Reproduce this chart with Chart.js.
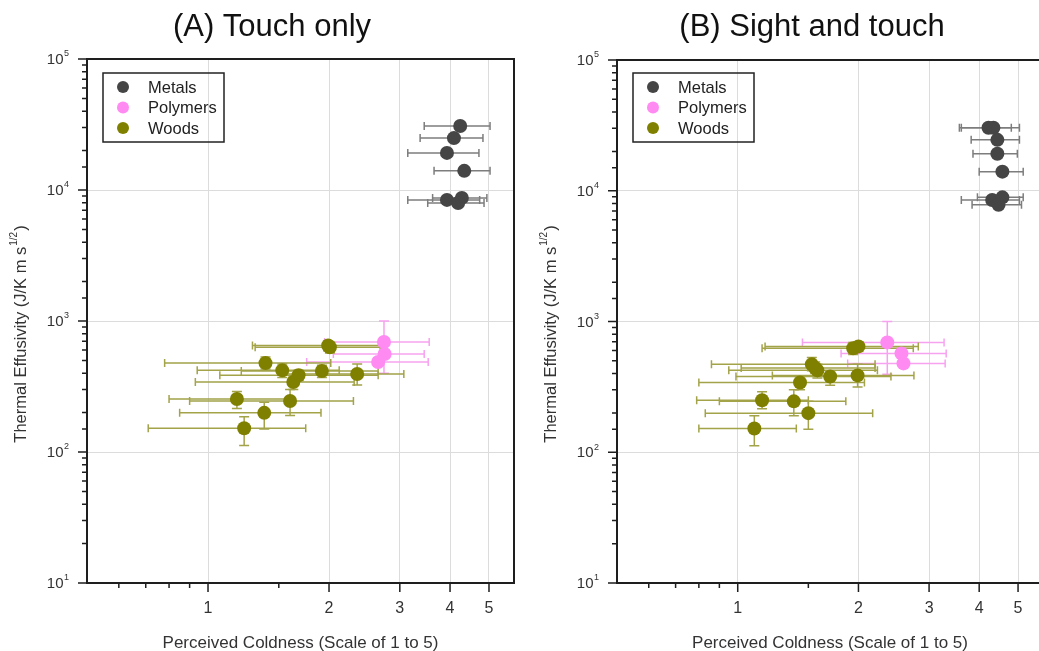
<!DOCTYPE html>
<html>
<head>
<meta charset="utf-8">
<script src="https://cdn.jsdelivr.net/npm/chart.js@4.4.1/dist/chart.umd.min.js"></script>
<style>
	body { margin: 0; background: #fff; overflow: hidden; width: 1039px; height: 651px; position: relative; }
	canvas { position: absolute; top: 0; }
</style>
</head>
<body>
<canvas id="graficoTato" width="520" height="651" style="left:0"></canvas>
<canvas id="graficoVisaoTato" width="530" height="651" style="left:520px"></canvas>
<script>
// (A) Touch only
var metaisA_x    = [4.24, 4.09, 3.93, 4.34, 3.93, 4.28, 4.19];
var metaisA_y    = [30800, 24900, 19200, 14000, 8400, 8700, 7950];
var metaisA_xmin = [3.45, 3.37, 3.14, 3.65, 3.14, 3.62, 3.52];
var metaisA_xmax = [5.03, 4.83, 4.72, 5.03, 4.74, 4.94, 4.86];

var polimerosA_x    = [2.74, 2.75, 2.65];
var polimerosA_y    = [692, 560, 486];
var polimerosA_xmin = [1.95, 2.05, 1.76];
var polimerosA_xmax = [3.55, 3.45, 3.53];
var polimerosA_ymin = [400, null, null];
var polimerosA_ymax = [1000, null, null];

var madeirasA_x    = [1.99, 2.01, 1.39, 1.53, 1.68, 1.63, 1.92, 2.35, 1.18, 1.60, 1.38, 1.23];
var madeirasA_y    = [650, 630, 477, 420, 385, 342, 415, 394, 254, 245, 199, 152];
var madeirasA_xmin = [1.29, 1.31, 0.78, 0.94, 1.07, 0.93, 1.21, 1.55, 0.80, 0.90, 0.85, 0.71];
var madeirasA_xmax = [2.68, 2.70, 2.02, 2.12, 2.65, 2.31, 2.65, 3.07, 1.60, 2.30, 1.91, 1.75];
var madeirasA_ymin = [590, 570, 430, 370, 350, 300, 370, 325, 215, 190, 150, 112];
var madeirasA_ymax = [700, 690, 530, 470, 420, 380, 460, 470, 290, 300, 240, 186];

// (B) Sight and touch
var metaisB_x    = [4.22, 4.34, 4.44, 4.44, 4.57, 4.31, 4.57, 4.47];
var metaisB_y    = [30300, 30300, 24500, 19200, 14000, 8500, 8900, 7800];
var metaisB_xmin = [3.57, 3.61, 3.82, 3.86, 4.00, 3.61, 3.96, 3.84];
var metaisB_xmax = [4.81, 5.04, 5.04, 4.98, 5.15, 5.04, 5.15, 5.10];

var polimerosB_x    = [2.36, 2.56, 2.59];
var polimerosB_y    = [692, 570, 478];
var polimerosB_xmin = [1.45, 1.81, 1.88];
var polimerosB_xmax = [3.27, 3.31, 3.29];
var polimerosB_ymin = [395, null, null];
var polimerosB_ymax = [1000, null, null];

var madeirasB_x    = [1.94, 2.00, 1.53, 1.56, 1.58, 1.70, 1.43, 1.99, 1.15, 1.38, 1.50, 1.10];
var madeirasB_y    = [625, 645, 470, 440, 423, 380, 342, 387, 250, 245, 199, 152];
var madeirasB_xmin = [1.15, 1.17, 0.86, 1.02, 0.95, 0.99, 0.80, 1.22, 0.79, 0.90, 0.83, 0.80];
var madeirasB_xmax = [2.74, 2.82, 2.20, 2.20, 2.23, 2.41, 2.07, 2.75, 1.50, 1.86, 2.17, 1.40];
var madeirasB_ymin = [560, 590, 420, 400, 370, 325, 300, 315, 215, 190, 150, 112];
var madeirasB_ymax = [690, 700, 530, 490, 470, 420, 380, 470, 290, 300, 245, 190];

var rotulosLegenda = ['Metals', 'Polymers', 'Woods'];
var coresPontos = ['#454545', '#ff8af2', '#808000'];
var coresBarras = ['#7d7d7d', '#f7a2f0', '#a3a34a'];

var Grafico = Grafico || {};

Grafico.Efusividade = (function() {

	function Efusividade(id, opcoes) {
		this.ctx = document.getElementById(id).getContext('2d');
		this.opcoes = opcoes;
	}

	Efusividade.prototype.iniciar = function() {
		var o = this.opcoes;
		var datasets = o.series.map(function(s, i) {
			return {
				label: rotulosLegenda[i],
				data: s.x.map(function(x, j) { return { x: x, y: s.y[j] }; }),
				backgroundColor: coresPontos[i],
				borderWidth: 0,
				pointRadius: 7,
				pointHoverRadius: 7,
				xmin: s.xmin, xmax: s.xmax,
				ymin: s.ymin || [], ymax: s.ymax || [],
				corBarra: coresBarras[i]
			};
		});

		new Chart(this.ctx, {
			type: 'scatter',
			data: { datasets: datasets },
			options: {
				responsive: false,
				animation: false,
				devicePixelRatio: 1,
				layout: { autoPadding: false, padding: { left: 0, top: o.topo, right: o.direita, bottom: 0 } },
				plugins: {
					legend: { display: false },
					tooltip: { enabled: false },
					titulo: o
				},
				scales: {
					x: {
						type: 'logarithmic',
						min: 0.5, max: 5.77,
						border: { display: false },
						grid: {
							drawTicks: false,
							lineWidth: 1,
							color: function(c) { return ehInteiro(c.tick.value) ? '#dcdcdc' : 'rgba(0,0,0,0)'; }
						},
						ticks: {
							autoSkip: false, maxRotation: 0, padding: 16,
							color: '#333', font: { family: 'Liberation Sans', size: 16 },
							callback: function(v) { return ehInteiro(v) ? String(Math.round(v)) : ''; }
						},
						title: {
							display: true,
							text: 'Perceived Coldness (Scale of 1 to 5)',
							color: '#333',
							font: { family: 'Liberation Sans', size: 17 },
							padding: { top: 0, bottom: -3 }
						},
						afterFit: function(scale) {
							scale.height = 68;
							scale.paddingLeft = 0;
							scale.paddingRight = 0;
						}
					},
					y: {
						type: 'logarithmic',
						min: 10, max: 100000,
						border: { display: false },
						grid: {
							drawTicks: false,
							lineWidth: 1,
							color: function(c) { return ehDecada(c.tick.value) ? '#dcdcdc' : 'rgba(0,0,0,0)'; }
						},
						ticks: { display: false },
						afterFit: function(scale) {
							scale.width = o.larguraY;
							scale.paddingTop = 0;
							scale.paddingBottom = 0;
						}
					}
				}
			},
			plugins: [barrasErro, moldura]
		});
	};

	function ehDecada(v) {
		var l = Math.log10(v);
		return Math.abs(l - Math.round(l)) < 1e-6;
	}

	function ehInteiro(v) {
		return v > 0.99 && v < 5.01 && Math.abs(v - Math.round(v)) < 1e-6;
	}

	// barras de erro desenhadas antes dos pontos
	var barrasErro = {
		id: 'barrasErro',
		beforeDatasetsDraw: function(chart) {
			var ctx = chart.ctx, sx = chart.scales.x, sy = chart.scales.y;
			ctx.save();
			ctx.lineWidth = 1.5;
			chart.data.datasets.forEach(function(ds) {
				ctx.strokeStyle = ds.corBarra;
				ds.data.forEach(function(p, i) {
					var px = sx.getPixelForValue(p.x), py = sy.getPixelForValue(p.y);
					var x1 = sx.getPixelForValue(ds.xmin[i]), x2 = sx.getPixelForValue(ds.xmax[i]);
					ctx.beginPath();
					ctx.moveTo(x1, py); ctx.lineTo(x2, py);
					ctx.moveTo(x1, py - 4); ctx.lineTo(x1, py + 4);
					ctx.moveTo(x2, py - 4); ctx.lineTo(x2, py + 4);
					if (ds.ymin[i] != null) {
						var y1 = sy.getPixelForValue(ds.ymin[i]), y2 = sy.getPixelForValue(ds.ymax[i]);
						ctx.moveTo(px, y1); ctx.lineTo(px, y2);
						ctx.moveTo(px - 5, y1); ctx.lineTo(px + 5, y1);
						ctx.moveTo(px - 5, y2); ctx.lineTo(px + 5, y2);
					}
					ctx.stroke();
				});
			});
			ctx.restore();
		}
	};

	// moldura, marcas, rotulos 10^n, titulos e legenda
	var moldura = {
		id: 'moldura',
		afterDraw: function(chart) {
			var ctx = chart.ctx, a = chart.chartArea, sx = chart.scales.x, sy = chart.scales.y;
			var o = chart.options.plugins.titulo;
			ctx.save();
			ctx.strokeStyle = '#1e1e1e';
			ctx.lineWidth = 2;
			ctx.strokeRect(a.left, a.top, a.right - a.left, a.bottom - a.top);

			ctx.lineWidth = 1.5;
			ctx.beginPath();
			sx.ticks.forEach(function(t) {
				if (t.value <= 0.5 || t.value > 5.01) return;
				var x = sx.getPixelForValue(t.value);
				var len = ehInteiro(t.value) ? 9 : 5;
				ctx.moveTo(x, a.bottom); ctx.lineTo(x, a.bottom + len);
			});
			sy.ticks.forEach(function(t) {
				var y = sy.getPixelForValue(t.value);
				var len = ehDecada(t.value) ? 9 : 5;
				ctx.moveTo(a.left, y); ctx.lineTo(a.left - len, y);
			});
			ctx.stroke();

			ctx.fillStyle = '#333';
			ctx.textBaseline = 'middle';
			for (var k = 1; k <= 5; k++) {
				var y = sy.getPixelForValue(Math.pow(10, k));
				ctx.font = '15px "Liberation Sans"';
				ctx.textAlign = 'right';
				ctx.fillText('10', a.left - 23.5, y + 1);
				ctx.font = '9px "Liberation Sans"';
				ctx.textAlign = 'left';
				ctx.fillText(String(k), a.left - 23, y - 5);
			}

			// titulo do eixo y com expoente 1/2
			ctx.save();
			ctx.translate(a.left - 66, 334);
			ctx.rotate(-Math.PI / 2);
			var t1 = 'Thermal Effusivity (J/K m s', t3 = ')';
			ctx.font = '10px "Liberation Sans"';
			var w2 = ctx.measureText('1/2').width;
			ctx.font = '16.5px "Liberation Sans"';
			var w1 = ctx.measureText(t1).width, w3 = ctx.measureText(t3).width;
			var x0 = -(w1 + w2 + w3 + 2) / 2;
			ctx.textAlign = 'left';
			ctx.fillText(t1, x0, 0);
			ctx.fillText(t3, x0 + w1 + w2 + 2, 0);
			ctx.font = '10px "Liberation Sans"';
			ctx.fillText('1/2', x0 + w1 + 1, -7);
			ctx.restore();

			ctx.fillStyle = '#111';
			ctx.font = '31px "Liberation Sans"';
			ctx.textAlign = 'center';
			ctx.fillText(o.titulo, o.tituloX, 27);

			// legenda
			var lx = a.left + 16, ly = 73;
			ctx.strokeStyle = '#222';
			ctx.lineWidth = 1.5;
			ctx.strokeRect(lx, ly, 121, 69);
			ctx.font = '16.5px "Liberation Sans"';
			ctx.textAlign = 'left';
			rotulosLegenda.forEach(function(r, i) {
				var yy = ly + 14 + i * 20.5;
				ctx.fillStyle = coresPontos[i];
				ctx.beginPath();
				ctx.arc(lx + 20, yy, 6, 0, Math.PI * 2);
				ctx.fill();
				ctx.fillStyle = '#222';
				ctx.fillText(r, lx + 45, yy + 1);
			});
			ctx.restore();
		}
	};

	return Efusividade;

}());

window.addEventListener('load', function() {
	var graficoTato = new Grafico.Efusividade('graficoTato', {
		titulo: '(A) Touch only', tituloX: 272, topo: 59, direita: 6, larguraY: 87,
		series: [
			{ x: metaisA_x, y: metaisA_y, xmin: metaisA_xmin, xmax: metaisA_xmax },
			{ x: polimerosA_x, y: polimerosA_y, xmin: polimerosA_xmin, xmax: polimerosA_xmax, ymin: polimerosA_ymin, ymax: polimerosA_ymax },
			{ x: madeirasA_x, y: madeirasA_y, xmin: madeirasA_xmin, xmax: madeirasA_xmax, ymin: madeirasA_ymin, ymax: madeirasA_ymax }
		]
	});
	graficoTato.iniciar();

	var graficoVisaoTato = new Grafico.Efusividade('graficoVisaoTato', {
		titulo: '(B) Sight and touch', tituloX: 292, topo: 60, direita: 7, larguraY: 97,
		series: [
			{ x: metaisB_x, y: metaisB_y, xmin: metaisB_xmin, xmax: metaisB_xmax },
			{ x: polimerosB_x, y: polimerosB_y, xmin: polimerosB_xmin, xmax: polimerosB_xmax, ymin: polimerosB_ymin, ymax: polimerosB_ymax },
			{ x: madeirasB_x, y: madeirasB_y, xmin: madeirasB_xmin, xmax: madeirasB_xmax, ymin: madeirasB_ymin, ymax: madeirasB_ymax }
		]
	});
	graficoVisaoTato.iniciar();
});
</script>
</body>
</html>
